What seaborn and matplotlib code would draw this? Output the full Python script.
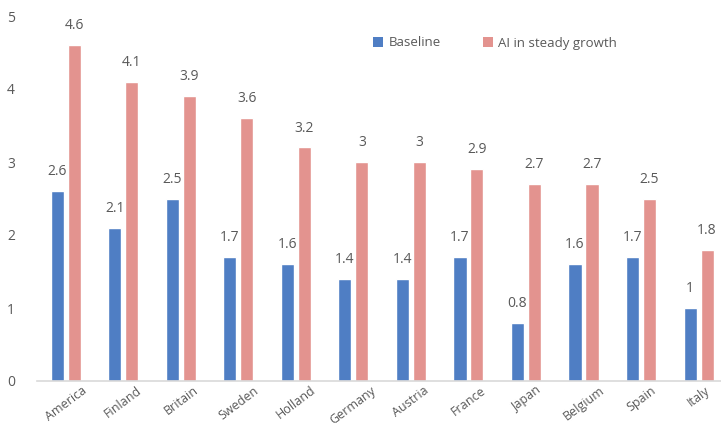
import matplotlib
matplotlib.use("Agg")
import matplotlib.pyplot as plt
import seaborn as sns
import pandas as pd
from matplotlib.patches import Patch

countries = ["America", "Finland", "Britain", "Sweden", "Holland", "Germany",
             "Austria", "France", "Japan", "Belgium", "Spain", "Italy"]
baseline = [2.6, 2.1, 2.5, 1.7, 1.6, 1.4, 1.4, 1.7, 0.8, 1.6, 1.7, 1.0]
ai_growth = [4.6, 4.1, 3.9, 3.6, 3.2, 3.0, 3.0, 2.9, 2.7, 2.7, 2.5, 1.8]
series_names = ["Baseline", "AI in steady growth"]
colors = ["#4F7EC4", "#E3938F"]

df = pd.DataFrame({
    "country": countries * 2,
    "value": baseline + ai_growth,
    "series": [series_names[0]] * len(countries) + [series_names[1]] * len(countries),
})

sns.set_theme(style="white")
plt.rcParams["font.family"] = ["Open Sans", "DejaVu Sans"]

fig = plt.figure(figsize=(7.21, 4.26), dpi=100)
ax = fig.add_axes([37 / 721, 45 / 426, (721 - 37) / 721, (381 - 16) / 426])

sns.barplot(data=df, x="country", y="value", hue="series", palette=colors,
            width=0.59, gap=0.23, ax=ax, legend=False, saturation=1)

label_color = "#595959"
for cont in ax.containers:
    ax.bar_label(cont, fmt="%g", padding=8.5, fontsize=10, color=label_color)

ax.set_xlim(-0.5, 11.39)
ax.set_ylim(0, 5)
ax.set_yticks([0, 1, 2, 3, 4, 5])
ax.set_xlabel("")
ax.set_ylabel("")

for side in ["top", "right", "left"]:
    ax.spines[side].set_visible(False)
ax.spines["bottom"].set_color("#d9d9d9")
ax.spines["bottom"].set_linewidth(1.2)

ax.tick_params(axis="y", length=0, pad=16, labelsize=10, labelcolor=label_color)
ax.tick_params(axis="x", length=0, pad=2, labelsize=9, labelcolor=label_color)
plt.setp(ax.get_xticklabels(), rotation=37, ha="center", va="top")

handles = [Patch(facecolor=c, edgecolor="none") for c in colors]
fig.legend(handles, series_names, loc="center", bbox_to_anchor=(495 / 721, 1 - 43 / 426),
           ncol=2, frameon=False, fontsize=9.5, handlelength=0.75, handleheight=0.75,
           handletextpad=0.4, columnspacing=3.2, labelcolor=label_color)

fig.savefig("out.png", dpi=100)
